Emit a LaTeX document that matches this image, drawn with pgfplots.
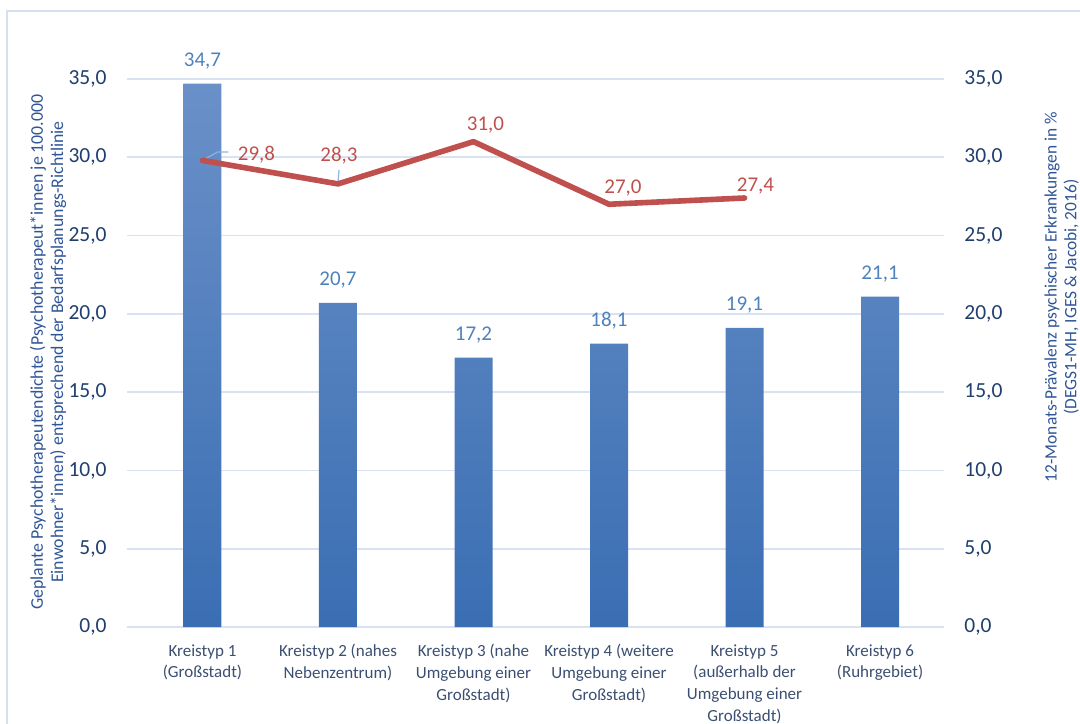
\documentclass[border=0pt]{standalone}
\usepackage{fontspec}
\setmainfont{Carlito}
\usepackage{pgfplots}
\pgfplotsset{compat=1.18}
\usepackage{pgfplotstable}
\definecolor{gridc}{HTML}{D9E2F3}
\definecolor{framec}{HTML}{D6E0F0}
\definecolor{bartop}{HTML}{6A90C8}
\definecolor{barbot}{HTML}{3A6EB3}
\definecolor{barlab}{HTML}{4F81BD}
\definecolor{linec}{HTML}{C0504D}
\definecolor{tickc}{HTML}{203F6E}
\definecolor{catc}{HTML}{3A4F72}
\definecolor{titc}{HTML}{2F5597}
\definecolor{leadc}{HTML}{8DB3E2}

\pgfplotstableread{
x y lab
0 34.7 34,7
1 20.7 20,7
2 17.2 17,2
3 18.1 18,1
4 19.1 19,1
5 21.1 21,1
}\bars

\pgfplotstableread{
x y lab dx dy
0 29.8 29,8 27 0
1 28.3 28,3 0.5 11
2 31.0 31,0 6 5.75
3 27.0 27,0 7 5.5
4 27.4 27,4 5.5 3
}\linedata

\begin{document}
\begin{tikzpicture}
\useasboundingbox (0,0) rectangle (540pt,361.5pt);
\clip (0,0) rectangle (540pt,361.5pt);
\draw[framec, line width=0.8pt] (3.6pt,-10pt) rectangle (560pt,356pt);

\begin{axis}[
  at={(63.5pt,48pt)}, anchor=south west,
  width=408.5pt, height=274pt, scale only axis,
  xmin=-0.557, xmax=5.472, ymin=0, ymax=35,
  axis line style={draw=none},
  major tick length=0pt,
  ytick={0,5,...,35},
  ymajorgrids, grid style={gridc, line width=0.8pt},
  /pgf/number format/assume math mode=true,
  yticklabel={\pgfmathprintnumber[fixed,fixed zerofill,precision=1,use comma]{\tick}},
  yticklabel style={font=\fontsize{10.75}{12}\selectfont, color=tickc, anchor=east, inner sep=0pt, xshift=-10pt},
  xtick={0,1,2,3,4,5},
  xticklabels={{Kreistyp 1\\(Großstadt)},{Kreistyp 2 (nahes\\Nebenzentrum)},{Kreistyp 3 (nahe\\Umgebung einer\\Großstadt)},{Kreistyp 4 (weitere\\Umgebung einer\\Großstadt)},{Kreistyp 5\\(außerhalb der\\Umgebung einer\\Großstadt)},{Kreistyp 6\\(Ruhrgebiet)}},
  xticklabel style={font=\fontsize{8.5}{10.85}\selectfont, color=catc, align=center, anchor=north, inner sep=0pt, yshift=-8.5pt},
  clip=false,
]
\addplot[ybar, bar width=19pt, draw=none, top color=bartop, bottom color=barbot,
  point meta=explicit symbolic,
  nodes near coords,
  every node near coord/.append style={font=\fontsize{10.5}{12}\selectfont, color=barlab, anchor=base, inner sep=0pt, yshift=8.5pt}]
  table[x=x, y=y, meta=lab] {\bars};
\end{axis}

\begin{axis}[
  at={(63.5pt,48pt)}, anchor=south west,
  width=408.5pt, height=274pt, scale only axis,
  xmin=-0.557, xmax=5.472, ymin=0, ymax=35,
  axis line style={draw=none},
  major tick length=0pt,
  xtick=\empty,
  ytick={0,5,...,35}, ytick pos=right, yticklabel pos=right,
  /pgf/number format/assume math mode=true,
  yticklabel={\pgfmathprintnumber[fixed,fixed zerofill,precision=1,use comma]{\tick}},
  yticklabel style={font=\fontsize{10.75}{12}\selectfont, color=tickc, anchor=west, inner sep=0pt, xshift=10pt},
  clip=false,
]
\draw[leadc, line width=0.6pt] (axis cs:0,29.8) -- ++(7.5pt,4.2pt) -- ++(5.5pt,0pt);
\draw[leadc, line width=0.6pt] (axis cs:1,28.3) ++(0pt,0.5pt) -- ++(0.5pt,6.5pt);
\addplot[linec, line width=2.8pt, line join=round, line cap=round,
  point meta=explicit symbolic,
  visualization depends on={\thisrow{dx}\as\dx},
  visualization depends on={\thisrow{dy}\as\dy},
  nodes near coords,
  every node near coord/.append style={font=\fontsize{10.5}{12}\selectfont, color=linec, anchor=base, inner sep=0pt, xshift=\dx pt, yshift=\dy pt}]
  table[x=x, y=y, meta=lab] {\linedata};
\end{axis}

\node[rotate=90, align=center, font=\fontsize{8.9}{10.2}\selectfont, color=titc] at (24pt,185.5pt)
  {Geplante Psychotherapeutendichte (Psychotherapeut*innen je 100.000\\Einwohner*innen) entsprechend der Bedarfsplanungs-Richtlinie};
\node[rotate=90, align=center, font=\fontsize{8.7}{9.8}\selectfont, color=titc] at (530.8pt,213pt)
  {12-Monats-Prävalenz psychischer Erkrankungen in \%\\(DEGS1-MH, IGES \& Jacobi, 2016)};
\end{tikzpicture}
\end{document}
